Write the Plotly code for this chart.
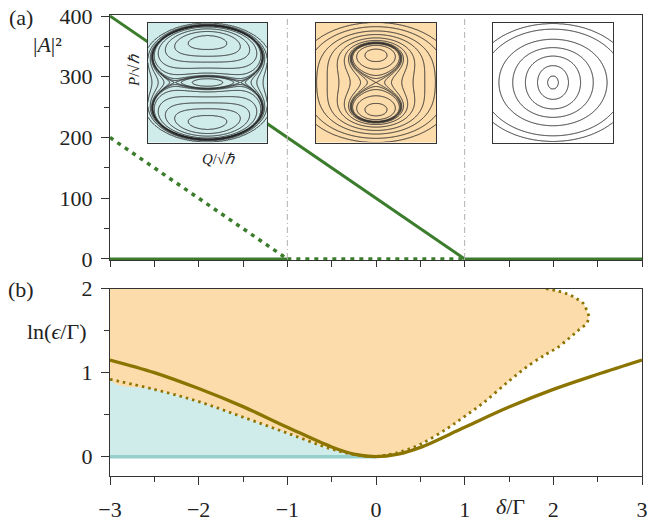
import numpy as np
import plotly.graph_objects as go

# ---------------- data ----------------
# panel (a): steady-state amplitudes |A|^2 versus detuning delta/Gamma
branch_upper_delta = [-3, 1]
branch_upper_A2 = [400, 0]
branch_lower_delta = [-3, -1]
branch_lower_A2 = [200, 0]
zero_stable_left_delta = [-3, -1]
zero_unstable_delta = [-1, 1]
zero_stable_right_delta = [1, 3]
zero_A2 = [0, 0]
boundary_deltas = [-1, 1]

# panel (b): ln(eps/Gamma) boundaries
solid_delta = [-3, -2.5, -2, -1.5, -1, -0.5, -0.25, 0, 0.25, 0.5, 1, 1.5, 2, 2.5, 3]
solid_lneps = [1.15, 1.0, 0.81, 0.595, 0.35, 0.115, 0.03, 0.0, 0.03, 0.11, 0.35, 0.59, 0.80, 0.98, 1.15]
dot_left_delta = [-3, -2.5, -2, -1.5, -1, -0.5, -0.25, 0]
dot_left_lneps = [0.92, 0.80, 0.655, 0.47, 0.28, 0.09, 0.025, 0.0]
dot_right_delta = [0, 0.25, 0.5, 0.81, 1.0, 1.21, 1.5, 1.73, 1.92, 2.05, 2.19, 2.28, 2.37, 2.40, 2.38, 2.34, 2.26, 2.17, 2.05, 1.915]
dot_right_lneps = [0, 0.05, 0.148, 0.34, 0.48, 0.64, 0.90, 1.09, 1.22, 1.30, 1.42, 1.50, 1.58, 1.66, 1.73, 1.82, 1.88, 1.93, 1.97, 2.0]
region_top = 2.0
teal_delta = [-3, 0]
teal_lneps = [0, 0]

# insets: classical phase portraits H = r^4/4 - D r^2/2 + e (Q^2 - P^2)/2
inset_detuning = [1.0, 0.0, -5.0 / 3.0]
inset_drive = [0.65, 1.0, 1.0]
inset_Qmax = [1.08, 1.2, 1.5]
inset_Pmax = [1.9, 2.15, 2.4]
inset_levels = [
    [-0.6, -0.45, -0.3, -0.16, -0.07, -0.04, -0.033, -0.0306, -0.027, -0.012, 0.02, 0.08, 0.2],
    [-0.2, -0.1, -0.03, -0.01, 0.0, 0.015, 0.05, 0.15, 0.35, 0.7, 1.2, 2.0, 3.0],
    [0.0244, 0.2, 0.68, 1.585, 3.22, 6.7, 9.5],
]
inset_fill = ["#cfeceb", "#fddcab", "#ffffff"]

# ---------------- style ----------------
GREEN = "#3b7d2d"
OLIVE = "#8b7500"
ORANGE = "#fddcab"
CYAN = "#cfeceb"
TEAL = "#96d0cc"
AX = "#333333"
FONT = "Liberation Serif"
FS = 22

fig = go.Figure()

# panel (a)
fig.add_trace(go.Scatter(x=branch_upper_delta, y=branch_upper_A2, mode="lines",
                         line=dict(color=GREEN, width=3), xaxis="x", yaxis="y"))
fig.add_trace(go.Scatter(x=branch_lower_delta, y=branch_lower_A2, mode="lines",
                         line=dict(color=GREEN, width=3.5, dash="4px,5px"), xaxis="x", yaxis="y"))
for xs in (zero_stable_left_delta, zero_stable_right_delta):
    fig.add_trace(go.Scatter(x=xs, y=zero_A2, mode="lines",
                             line=dict(color=GREEN, width=3), xaxis="x", yaxis="y"))
fig.add_trace(go.Scatter(x=zero_unstable_delta, y=zero_A2, mode="lines",
                         line=dict(color=GREEN, width=3.5, dash="4px,5px"), xaxis="x", yaxis="y"))
for b in boundary_deltas:
    fig.add_trace(go.Scatter(x=[b, b], y=[0, 400], mode="lines",
                             line=dict(color="#b0b0b0", width=1, dash="6px,3px,1px,3px"),
                             xaxis="x", yaxis="y"))

# panel (b)
cyan_x = [-3] + dot_left_delta + [0]
cyan_y = [0] + dot_left_lneps + [0]
fig.add_trace(go.Scatter(x=cyan_x[::-1], y=cyan_y[::-1], mode="lines", fill="toself",
                         fillcolor=CYAN, line=dict(width=0, color=CYAN, shape="spline"),
                         xaxis="x2", yaxis="y2"))
orange_x = [-3, dot_right_delta[-1]] + dot_right_delta[::-1][1:] + dot_left_delta[::-1][1:] + [-3]
orange_y = [region_top, region_top] + dot_right_lneps[::-1][1:] + dot_left_lneps[::-1][1:] + [region_top]
fig.add_trace(go.Scatter(x=orange_x, y=orange_y, mode="lines", fill="toself",
                         fillcolor=ORANGE, line=dict(width=0, color=ORANGE, shape="spline"),
                         xaxis="x2", yaxis="y2"))
fig.add_trace(go.Scatter(x=teal_delta, y=teal_lneps, mode="lines",
                         line=dict(color=TEAL, width=3.5), xaxis="x2", yaxis="y2"))
fig.add_trace(go.Scatter(x=dot_left_delta, y=dot_left_lneps, mode="lines",
                         line=dict(color=OLIVE, width=2.8, dash="2.5px,4px", shape="spline"),
                         xaxis="x2", yaxis="y2"))
fig.add_trace(go.Scatter(x=dot_right_delta, y=dot_right_lneps, mode="lines",
                         line=dict(color=OLIVE, width=2.8, dash="2.5px,4px", shape="spline"),
                         xaxis="x2", yaxis="y2"))
fig.add_trace(go.Scatter(x=solid_delta, y=solid_lneps, mode="lines",
                         line=dict(color=OLIVE, width=3.3, shape="spline"),
                         xaxis="x2", yaxis="y2"))

# insets
for i in range(3):
    D, e = inset_detuning[i], inset_drive[i]
    q = np.linspace(-inset_Qmax[i], inset_Qmax[i], 260)
    p = np.linspace(-inset_Pmax[i], inset_Pmax[i], 260)
    QQ, PP = np.meshgrid(q, p)
    r2 = QQ**2 + PP**2
    H = r2**2 / 4 - D * r2 / 2 + e * (QQ**2 - PP**2) / 2
    lv = inset_levels[i]
    ext = [H.min() - 1.0] + lv + [H.max() + 1.0]
    Z = np.interp(H, ext, np.arange(len(ext)))
    ax = str(i + 3)
    fig.add_trace(go.Heatmap(x=[q[0], q[-1]], y=[p[0], p[-1]], z=[[0, 0], [0, 0]],
                             colorscale=[[0, inset_fill[i]], [1, inset_fill[i]]],
                             showscale=False, hoverinfo="skip", xaxis="x" + ax, yaxis="y" + ax))
    fig.add_trace(go.Contour(x=q, y=p, z=Z, contours=dict(coloring="none", start=1,
                             end=len(lv), size=1), line=dict(color="#2a2a2a", width=1),
                             showscale=False, hoverinfo="skip", xaxis="x" + ax, yaxis="y" + ax))

# ---------------- layout ----------------
W, Hh = 648, 521
L, R_EDGE, T, BOT = 110, 642, 15, 476
pw, ph = R_EDGE - L, BOT - T


def px2x(px):
    return (px - L) / pw


def py2y(py):
    return (BOT - py) / ph


common_ax = dict(showline=True, mirror=True, linecolor=AX, linewidth=1.3, showgrid=False,
                 zeroline=False, ticks="outside", tickcolor=AX, tickwidth=1.2, automargin=False,
                 tickfont=dict(family=FONT, size=FS, color="#222"))

layout = dict(
    width=W, height=Hh, autosize=False, margin=dict(l=L, r=W - R_EDGE, t=T, b=Hh - BOT),
    paper_bgcolor="white", plot_bgcolor="white", showlegend=False,
    font=dict(family=FONT, size=FS, color="#222"),
    xaxis=dict(common_ax, domain=[0, 1], anchor="y", range=[-3, 3], dtick=1, ticklen=6,
               showticklabels=False, minor=dict(dtick=0.5, ticklen=6, ticks="outside", tickcolor=AX)),
    yaxis=dict(common_ax, domain=[py2y(260), 1], anchor="x", range=[-1.7, 401.7], dtick=100,
               ticklen=8, ticklabelstandoff=4,
               minor=dict(dtick=50, ticklen=5, ticks="outside", tickcolor=AX)),
    xaxis2=dict(common_ax, domain=[0, 1], anchor="y2", range=[-3, 3], dtick=1, ticklen=8,
                ticklabelstandoff=5, ticklabeloverflow="allow",
                minor=dict(dtick=0.5, ticklen=5, ticks="outside", tickcolor=AX)),
    yaxis2=dict(common_ax, domain=[0, py2y(288.5)], anchor="x2", range=[-0.23, 2],
                tickvals=[0, 1, 2], ticklen=8, ticklabelstandoff=4,
                minor=dict(dtick=0.5, ticklen=5, ticks="outside", tickcolor=AX)),
)
inset_px = [(148, 267), (316, 436), (492.7, 613.3)]
for i in range(3):
    ax = str(i + 3)
    layout["xaxis" + ax] = dict(domain=[px2x(inset_px[i][0]), px2x(inset_px[i][1])], anchor="y" + ax,
                                range=[-inset_Qmax[i], inset_Qmax[i]], showticklabels=False,
                                ticks="", showgrid=False, zeroline=False, showline=True,
                                automargin=False, mirror=True, linecolor=AX, linewidth=1.4)
    layout["yaxis" + ax] = dict(domain=[py2y(142.5), py2y(22.5)], anchor="x" + ax,
                                range=[-inset_Pmax[i], inset_Pmax[i]], showticklabels=False,
                                ticks="", showgrid=False, zeroline=False, showline=True,
                                automargin=False, mirror=True, linecolor=AX, linewidth=1.4)
fig.update_layout(**layout)

ann = [
    ("(a)", 21, 17, FS, 0),
    ("|<i>A</i>|²", 47, 44, FS, 0),
    ("(b)", 21, 289, FS, 0),
    ("ln(<i>ϵ</i>/Γ)", 57, 331, FS, 0),
    ("<i>δ</i>/Γ", 510, 506, FS, 0),
    ("<i>P</i>/√<i>ℏ</i>", 134, 71, 15, -90),
    ("<i>Q</i>/√<i>ℏ</i>", 218, 159, 15, 0),
]
for text, x, y, s, rot in ann:
    fig.add_annotation(text=text, x=px2x(x), y=py2y(y), xref="paper", yref="paper",
                       showarrow=False, xanchor="center", yanchor="middle", textangle=rot,
                       font=dict(family=FONT, size=s, color="#222"))

fig.write_html("out.html",
               config={"responsive": False, "displayModeBar": False},
               post_script="document.body.style.margin='0';document.body.style.padding='0';"
                           "document.body.style.overflow='hidden';")
